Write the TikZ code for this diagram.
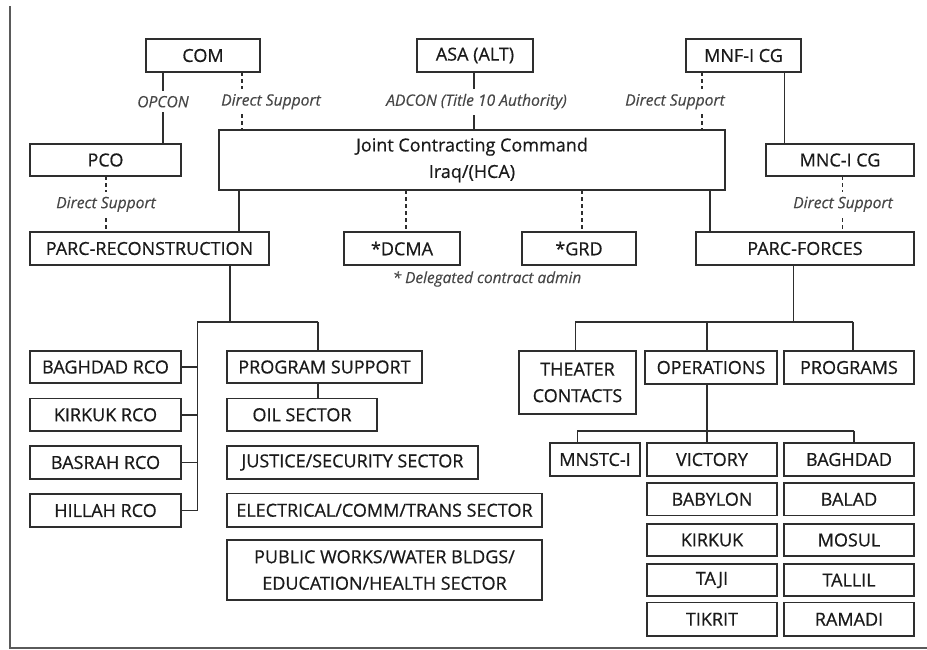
\documentclass[tikz,border=0pt]{standalone}
\usepackage{fontspec}
\setmainfont{Open Sans}
\newfontfamily\boxfont{Open Sans}[FakeBold=0.6]
\newfontfamily\labfont{Open Sans}[FakeBold=0.3]
\usetikzlibrary{calc}
\definecolor{ln}{HTML}{2E2E2E}
\definecolor{tx}{HTML}{1A1A1A}
\definecolor{lb}{HTML}{474747}
\definecolor{fr}{HTML}{5A5A5A}
\tikzset{
  box/.style={draw=ln, line width=1.6pt, anchor=north west, inner sep=0pt, outer sep=0pt,
    text=tx, font=\boxfont\fontsize{18}{26.5}\selectfont, align=center},
  conn/.style={draw=ln, line width=1.6pt},
  dconn/.style={draw=ln, line width=1.6pt, dash pattern=on 4pt off 3pt},
  lab/.style={fill=white, inner xsep=2pt, inner ysep=5pt, text=lb, font=\labfont\fontsize{15.6}{18}\selectfont\itshape},
  note/.style={inner sep=0pt, text=lb, font=\labfont\fontsize{15.4}{18}\selectfont\itshape}
}
\newcommand{\bx}[6]{\node[box, minimum width=#4pt, minimum height=#5pt] (#1) at (#2,#3) {#6};}
\begin{document}
\begin{tikzpicture}[x=1pt,y=-1pt]
\useasboundingbox (0,0) rectangle (927,649);
% frame
\draw[fr, line width=1.6pt] (10,6) -- (10,648) -- (927,648);
% top row
\bx{com}{146}{39}{114}{33}{COM}
\bx{asa}{417}{39}{116}{33}{ASA (ALT)}
\bx{mnf}{686}{39}{115}{33}{MNF-I CG}
\bx{jcc}{219}{130}{506}{60}{Joint Contracting Command\\Iraq/(HCA)}
\bx{pco}{30}{144}{151}{32}{PCO}
\bx{mnc}{766}{144}{148}{32}{MNC-I CG}
\bx{parcr}{30}{232}{239}{33}{PARC-RECONSTRUCTION}
\bx{dcma}{344}{232}{116}{33}{*DCMA}
\bx{grd}{522}{232}{114}{33}{*GRD}
\bx{parcf}{696}{232}{218}{33}{PARC-FORCES}
\node[note] (dnote) at (487,279) {* Delegated contract admin};
% reconstruction side
\bx{rco1}{30}{351}{151}{32}{BAGHDAD RCO}
\bx{rco2}{30}{398.5}{151}{32.5}{KIRKUK RCO}
\bx{rco3}{30}{446}{151}{33}{BASRAH RCO}
\bx{rco4}{30}{494}{151}{33}{HILLAH RCO}
\bx{ps}{227}{351}{195}{32}{PROGRAM SUPPORT}
\bx{oil}{227}{398.5}{150}{32.5}{OIL SECTOR}
\bx{jus}{227}{446}{251}{33}{JUSTICE/SECURITY SECTOR}
\bx{ele}{227}{493.5}{315}{33.5}{ELECTRICAL/COMM/TRANS SECTOR}
\bx{pub}{227}{540}{315}{60}{PUBLIC WORKS/WATER BLDGS/\\EDUCATION/HEALTH SECTOR}
% forces side
\bx{thc}{519}{351}{117}{63}{THEATER\\CONTACTS}
\bx{ops}{645}{351}{132}{33}{OPERATIONS}
\bx{prg}{784}{351}{130}{33}{PROGRAMS}
\bx{mns}{550}{443}{90}{33}{MNSTC-I}
\bx{vic}{647}{443}{130}{33}{VICTORY}
\bx{bag}{784}{443}{130}{33}{BAGHDAD}
\bx{bab}{647}{483}{130}{32.5}{BABYLON}
\bx{bal}{784}{483}{130}{32.5}{BALAD}
\bx{kir}{647}{524}{130}{32}{KIRKUK}
\bx{mos}{784}{524}{130}{32}{MOSUL}
\bx{taj}{647}{564}{130}{32}{TAJI}
\bx{tal}{784}{564}{130}{32}{TALLIL}
\bx{tik}{647}{602.5}{130}{33.5}{TIKRIT}
\bx{ram}{784}{602.5}{130}{33.5}{RAMADI}
% top connectors
\draw[conn] (163,0 |- com.south) -- (163,0 |- pco.north);
\node[lab] (l1) at (163,101.7) {OPCON};
\draw[dconn] (242,0 |- com.south) -- (242,0 |- jcc.north);
\node[lab] (l2) at (271,101.7) {Direct Support};
\draw[conn] (474,0 |- asa.south) -- (474,0 |- jcc.north);
\node[lab] (l3) at (476.5,101.7) {ADCON (Title 10 Authority)};
\draw[dconn] (702,0 |- mnf.south) -- (702,0 |- jcc.north);
\node[lab] (l4) at (675,101.7) {Direct Support};
\draw[conn] (784.3,0 |- mnf.south) -- (784.3,0 |- mnc.north);
\draw[dconn] (106,0 |- pco.south) -- (106,0 |- parcr.north);
\node[lab] (l5) at (106,204.3) {Direct Support};
\draw[conn] (239,0 |- jcc.south) -- (239,0 |- parcr.north);
\draw[dconn] (406,0 |- jcc.south) -- (406,0 |- dcma.north);
\draw[dconn] (582,0 |- jcc.south) -- (582,0 |- grd.north);
\draw[conn] (710,0 |- jcc.south) -- (710,0 |- parcf.north);
\draw[dconn] (842.3,0 |- mnc.south) -- (842.3,0 |- parcf.north);
\node[lab] (l6) at (843,204.3) {Direct Support};
% reconstruction tree
\coordinate (rb) at (230,321.7);
\draw[conn] (230,0 |- parcr.south) -- (rb);
\draw[conn] (197.3,321.7) -- (317.7,321.7);
\draw[conn] (197.3,321.7) -- (197.3,0 |- rco4.east);
\foreach \r in {rco1,rco2,rco3,rco4} \draw[conn] (\r.east) -- (197.3,0 |- \r.east);
\draw[conn] (317.7,321.7) -- (317.7,0 |- ps.north);
\draw[conn] (317.7,0 |- ps.south) -- (317.7,0 |- oil.north);
% forces tree
\draw[conn] (793.3,0 |- parcf.south) -- (793.3,321.7);
\draw[conn] (575.3,321.7) -- (852.7,321.7);
\draw[conn] (575.3,321.7) -- (575.3,0 |- thc.north);
\draw[conn] (706.7,321.7) -- (706.7,0 |- ops.north);
\draw[conn] (852.7,321.7) -- (852.7,0 |- prg.north);
\draw[conn] (706.7,0 |- ops.south) -- (706.7,0 |- vic.north);
\draw[conn] (577.3,430.7) -- (854,430.7);
\draw[conn] (577.3,430.7) -- (577.3,0 |- mns.north);
\draw[conn] (854,430.7) -- (854,0 |- bag.north);
\end{tikzpicture}
\end{document}
